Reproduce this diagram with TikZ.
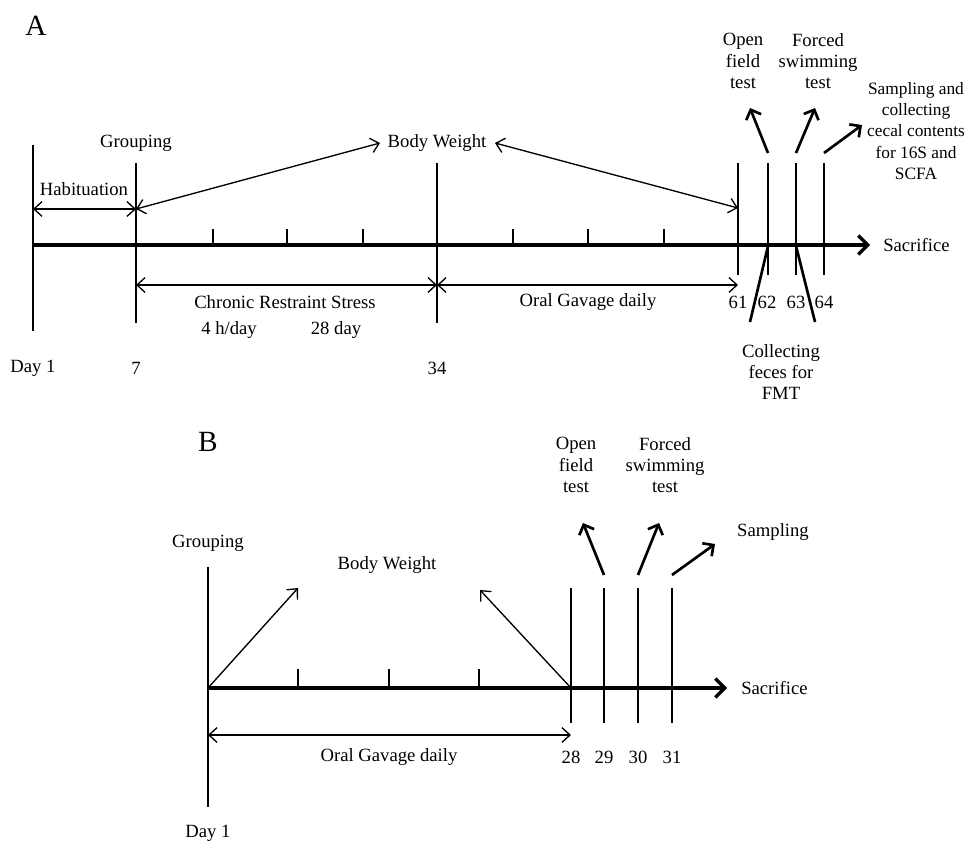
\documentclass[tikz,border=0pt]{standalone}
\usepackage{fontspec}
\setmainfont{Liberation Serif}
\usetikzlibrary{arrows.meta}
\begin{document}
\begin{tikzpicture}[x=0.75pt,y=-0.75pt,
  lbl/.style={font=\fontsize{14}{16}\selectfont, inner sep=0pt, align=center},
  panel/.style={font=\fontsize{22}{24}\selectfont, inner sep=0pt},
  axis/.style={line width=2.5pt, -{Straight Barb[length=7pt,width=14pt]}},
  vline/.style={line width=1.7pt},
  tick/.style={line width=1.7pt},
  twohead/.style={line width=1pt, {Straight Barb[length=6pt,width=11pt]}-{Straight Barb[length=6pt,width=11pt]}},
  onehead/.style={line width=1pt, -{Straight Barb[length=6pt,width=11pt]}},
  uparrow/.style={line width=2pt, -{Straight Barb[length=6pt,width=12pt]}},
  slant/.style={line width=2pt},
]
\useasboundingbox (0,0) rectangle (967,845);

% ================= Panel A =================
\node[panel] (A) at (36,26) {A};

\coordinate (a0) at (33,245);
\coordinate (aend) at (870,245);
\draw[axis] (a0) -- (aend);
\node[lbl, anchor=west] (sacA) at (883,245) {Sacrifice};

% vertical lines
\coordinate (v1t) at (33,145);  \coordinate (v1b) at (33,331);
\coordinate (v7t) at (136,163); \coordinate (v7b) at (136,323);
\coordinate (v34t) at (437,163); \coordinate (v34b) at (437,323);
\draw[vline] (v1t) -- (v1b);
\draw[vline] (v7t) -- (v7b);
\draw[vline] (v34t) -- (v34b);

% ticks
\foreach \x [count=\i] in {213,287,363,513,588,664}{
  \coordinate (ta\i t) at (\x,229); \coordinate (ta\i b) at (\x,245);
  \draw[tick] (ta\i t) -- (ta\i b);
}

% end lines 61-64
\foreach \x [count=\i] in {738,768,796,824}{
  \coordinate (e\i t) at (\x,163); \coordinate (e\i b) at (\x,275);
  \draw[vline] (e\i t) -- (e\i b);
}

% Habituation
\coordinate (h1) at (33,209); \coordinate (h2) at (136,209);
\draw[twohead] (h1) -- (h2);
\node[lbl] (hab) at (84,189) {Habituation};

% Grouping / Body weight
\node[lbl] (grpA) at (136,143) {Grouping};
\node[lbl] (bwA) at (437,143) {Body Weight};
\coordinate (bwl) at (380,143);
\coordinate (bwr) at (495,143);
\coordinate (e61a) at (738,208);
\draw[twohead] (h2) -- (bwl);
\draw[twohead] (bwr) -- (e61a);

% lower double arrows
\coordinate (c1) at (136,285); \coordinate (c2) at (437,285); \coordinate (c3) at (738,285);
\draw[twohead] (c1) -- (c2);
\draw[twohead] (c2) -- (c3);
\node[lbl] (crs) at (285,302) {Chronic Restraint Stress};
\node[lbl] (hday) at (229,330) {4 h/day};
\node[lbl] (dday) at (336,330) {28 day};
\node[lbl] (ogA) at (588,302) {Oral Gavage daily};

% numbers
\node[lbl] (n61) at (738,302) {61};
\node[lbl] (n62) at (767,302) {62};
\node[lbl] (n63) at (796,302) {63};
\node[lbl] (n64) at (824,302) {64};
\node[lbl] (d1A) at (33,368) {Day 1};
\node[lbl] (d7A) at (136,368) {7};
\node[lbl] (d34A) at (437,368) {34};

% upward arrows
\coordinate (u1s) at (768,153); \coordinate (u1e) at (750,108);
\coordinate (u2s) at (796,153); \coordinate (u2e) at (815,108);
\coordinate (u3s) at (824,153); \coordinate (u3e) at (862,125);
\draw[uparrow] (u1s) -- (u1e);
\draw[uparrow] (u2s) -- (u2e);
\draw[uparrow] (u3s) -- (u3e);
\node[lbl] (ofA) at (743,61) {Open\\field\\test};
\node[lbl] (fsA) at (818,61) {Forced\\swimming\\test};
\node[lbl, font=\fontsize{13}{16}\selectfont] (smA) at (916,131) {Sampling and\\collecting\\cecal contents\\for 16S and\\SCFA};

% slanted lines to FMT
\coordinate (s1t) at (768,246); \coordinate (s1b) at (750,322);
\coordinate (s2t) at (796,246); \coordinate (s2b) at (815,322);
\draw[slant] (s1t) -- (s1b);
\draw[slant] (s2t) -- (s2b);
\node[lbl] (fmt) at (781,372) {Collecting\\feces for\\FMT};

% ================= Panel B =================
\node[panel] (B) at (208,442) {B};

\coordinate (b0) at (208,688);
\coordinate (bend) at (727,688);
\draw[axis] (b0) -- (bend);
\node[lbl, anchor=west] (sacB) at (741,688) {Sacrifice};

\coordinate (bv1t) at (208,567); \coordinate (bv1b) at (208,807);
\draw[vline] (bv1t) -- (bv1b);

\foreach \x [count=\i] in {298,389,479}{
  \coordinate (tb\i t) at (\x,669); \coordinate (tb\i b) at (\x,688);
  \draw[tick] (tb\i t) -- (tb\i b);
}

\foreach \x [count=\i] in {571,604,638,672}{
  \coordinate (f\i t) at (\x,588); \coordinate (f\i b) at (\x,723);
  \draw[vline] (f\i t) -- (f\i b);
}
\coordinate (f1a) at (571,688);

\node[lbl] (grpB) at (208,543) {Grouping};
\node[lbl] (bwB) at (387,565) {Body Weight};
\coordinate (bwB1) at (298,588);
\coordinate (bwB2) at (480,590);
\draw[onehead] (b0) -- (bwB1);
\draw[onehead] (f1a) -- (bwB2);

\coordinate (og1) at (208,735); \coordinate (og2) at (571,735);
\draw[twohead] (og1) -- (og2);
\node[lbl] (ogB) at (389,757) {Oral Gavage daily};

\node[lbl] (n28) at (571,757) {28};
\node[lbl] (n29) at (604,757) {29};
\node[lbl] (n30) at (638,757) {30};
\node[lbl] (n31) at (672,757) {31};
\node[lbl] (d1B) at (208,833) {Day 1};

\coordinate (w1s) at (604,575); \coordinate (w1e) at (583,523);
\coordinate (w2s) at (638,575); \coordinate (w2e) at (659,523);
\coordinate (w3s) at (672,575); \coordinate (w3e) at (715,544);
\draw[uparrow] (w1s) -- (w1e);
\draw[uparrow] (w2s) -- (w2e);
\draw[uparrow] (w3s) -- (w3e);
\node[lbl] (ofB) at (576,465) {Open\\field\\test};
\node[lbl] (fsB) at (665,465) {Forced\\swimming\\test};
\node[lbl] (smB) at (773,532) {Sampling};
\end{tikzpicture}
\end{document}
